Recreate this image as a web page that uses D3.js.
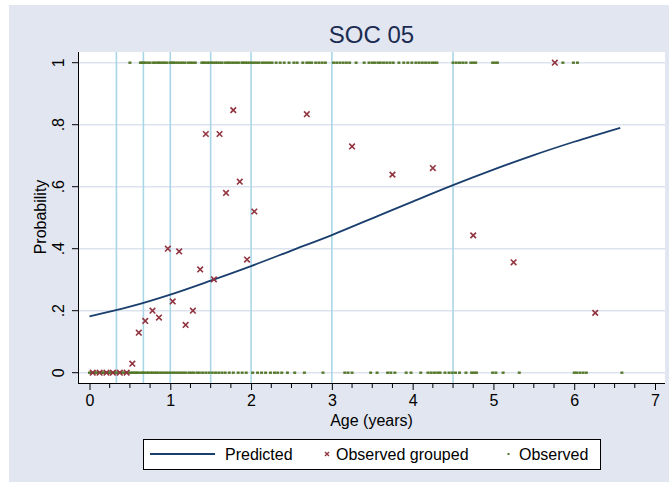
<!DOCTYPE html>
<html><head><meta charset="utf-8">
<script src="https://cdn.jsdelivr.net/npm/d3@7"></script>
<style>body{margin:0;background:#fff}svg{display:block}text{font-family:"Liberation Sans",Arial,sans-serif}</style>
</head><body>
<svg id="c" width="669" height="488"></svg>
<script>
const title = "SOC 05";
const xTicks = [0,1,2,3,4,5,6,7];
const yTicks = [0,0.2,0.4,0.6,0.8,1];
const yTickLabels = ["0",".2",".4",".6",".8","1"];
const refLines = [0.333,0.667,1,1.5,2,3,4.5];
const predAge = [0,0.5,1,1.5,2,2.5,3,3.5,4,4.5,5,5.5,6,6.57];
const predProb = [0.182,0.213,0.252,0.297,0.344,0.394,0.444,0.498,0.552,0.605,0.655,0.702,0.745,0.790];
const grpAge = [0.04,0.125,0.21,0.29,0.375,0.46,0.53,0.61,0.69,0.78,0.86,0.97,1.03,1.11,1.19,1.28,1.37,1.44,1.54,1.61,1.69,1.78,1.86,1.95,2.04,2.69,3.25,3.75,4.25,4.75,5.25,5.76,6.26];
const grpProb = [0,0,0,0,0,0,0.029,0.129,0.167,0.2,0.178,0.4,0.23,0.391,0.154,0.2,0.333,0.77,0.301,0.77,0.58,0.847,0.616,0.365,0.52,0.834,0.73,0.639,0.66,0.443,0.356,1.0,0.193];
const obs1Age = [0.50,0.63,0.65,0.67,0.69,0.72,0.75,0.79,0.81,0.84,0.86,0.88,0.91,0.93,0.96,1.00,1.02,1.04,1.06,1.09,1.12,1.15,1.18,1.22,1.25,1.28,1.31,1.39,1.41,1.43,1.46,1.48,1.51,1.53,1.56,1.58,1.61,1.64,1.68,1.71,1.73,1.76,1.79,1.82,1.85,1.89,1.90,1.93,1.95,1.98,2.01,2.04,2.07,2.10,2.14,2.17,2.20,2.23,2.26,2.31,2.36,2.41,2.47,2.53,2.57,2.64,2.69,2.72,2.75,2.80,2.84,2.88,2.92,3.02,3.06,3.10,3.14,3.18,3.22,3.30,3.40,3.46,3.50,3.53,3.57,3.60,3.64,3.68,3.72,3.76,3.83,3.89,3.94,3.99,4.04,4.08,4.12,4.16,4.20,4.24,4.27,4.30,4.50,4.54,4.58,4.62,4.66,4.72,4.75,4.78,4.99,5.02,5.05,5.86,5.99,6.04];
const obs0Age = [0.00,0.02,0.03,0.05,0.06,0.08,0.09,0.11,0.12,0.14,0.15,0.17,0.18,0.20,0.21,0.23,0.25,0.26,0.28,0.30,0.31,0.33,0.35,0.37,0.39,0.41,0.43,0.45,0.47,0.49,0.51,0.53,0.55,0.57,0.59,0.61,0.64,0.66,0.68,0.71,0.73,0.76,0.78,0.81,0.83,0.86,0.89,0.92,0.95,0.98,1.01,1.04,1.07,1.10,1.13,1.16,1.19,1.23,1.26,1.29,1.33,1.36,1.40,1.44,1.48,1.52,1.56,1.60,1.64,1.68,1.73,1.78,1.84,1.89,1.94,2.02,2.08,2.13,2.18,2.24,2.29,2.33,2.38,2.45,2.54,2.66,2.89,3.16,3.20,3.25,3.48,3.56,3.69,3.73,3.78,3.92,3.98,4.10,4.19,4.23,4.27,4.31,4.34,4.40,4.45,4.49,4.53,4.58,4.66,4.73,4.76,4.79,4.99,5.03,5.12,5.32,6.00,6.03,6.07,6.11,6.15,6.59];
const legendLabels = ["Predicted","Observed grouped","Observed"];

const svg = d3.select("#c");
const bg = "#e1e6f0";
svg.append("rect").attr("x",9).attr("y",5).attr("width",660).attr("height",477).attr("fill",bg);

const L=78, R=665, T=52, B=383;
const x = d3.scaleLinear().domain([0,7]).range([89.5,655]);
const y = d3.scaleLinear().domain([0,1]).range([372.7,62.7]);

svg.append("rect").attr("x",L).attr("y",T).attr("width",R-L).attr("height",B-T).attr("fill","#fff");

svg.append("g").selectAll("line").data(yTicks).join("line")
  .attr("x1",L).attr("x2",R).attr("y1",d=>y(d)).attr("y2",d=>y(d))
  .attr("stroke","#dde3ee").attr("stroke-width",1.6);
svg.append("g").selectAll("line").data(refLines).join("line")
  .attr("x1",d=>x(d)).attr("x2",d=>x(d)).attr("y1",T).attr("y2",B)
  .attr("stroke","#a9d6e6").attr("stroke-width",1.6);

const green="#55782a";
svg.append("g").selectAll("rect").data(obs1Age).join("rect")
  .attr("x",d=>x(d)-1.5).attr("y",y(1)-1.2).attr("width",3).attr("height",2.4).attr("fill",green);
svg.append("g").selectAll("rect").data(obs0Age).join("rect")
  .attr("x",d=>x(d)-1.5).attr("y",y(0)-1.2).attr("width",3).attr("height",2.4).attr("fill",green);

const line = d3.line().x(d=>x(d[0])).y(d=>y(d[1])).curve(d3.curveMonotoneX);
svg.append("path").datum(predAge.map((a,i)=>[a,predProb[i]])).attr("d",line)
  .attr("fill","none").attr("stroke","#1a3f6e").attr("stroke-width",1.8);

const red="#923540";
const s=2.8;
function cross(g,cx,cy){
  g.append("path").attr("d",`M${cx-s},${cy-s}L${cx+s},${cy+s}M${cx-s},${cy+s}L${cx+s},${cy-s}`)
   .attr("stroke",red).attr("stroke-width",1.6).attr("fill","none");
}
const gg = svg.append("g");
grpAge.forEach((a,i)=>cross(gg,x(a),y(grpProb[i])));

const xAxis = d3.axisBottom(x).tickValues(xTicks).tickSize(7).tickFormat(d3.format("d"));
const gx = svg.append("g").attr("transform",`translate(0,${B})`).call(xAxis);
gx.select(".domain").attr("d",`M${L},0.5H${R}`).attr("stroke","#000");
gx.selectAll(".tick line").attr("stroke","#000");
gx.selectAll(".tick text").attr("font-size",16).attr("fill","#000").attr("dy","0.71em").attr("y",12);
const minor = d3.range(1,28).filter(i=>i%4!==0).map(i=>i/4);
svg.append("g").selectAll("line").data(minor).join("line")
  .attr("x1",d=>x(d)).attr("x2",d=>x(d)).attr("y1",B).attr("y2",B+5).attr("stroke","#000");

svg.append("line").attr("x1",L+0.5).attr("x2",L+0.5).attr("y1",T).attr("y2",B+0.5).attr("stroke","#000");
const gy = svg.append("g");
yTicks.forEach((t,i)=>{
  gy.append("line").attr("x1",L-6).attr("x2",L).attr("y1",y(t)).attr("y2",y(t)).attr("stroke","#000");
  gy.append("text").attr("transform",`translate(${L-14},${y(t)}) rotate(-90)`)
    .attr("text-anchor","middle").attr("font-size",16).attr("fill","#000").text(yTickLabels[i]);
});

svg.append("text").attr("transform",`translate(46,217) rotate(-90)`).attr("text-anchor","middle")
  .attr("font-size",16).attr("fill","#000").text("Probability");
svg.append("text").attr("x",(L+R)/2).attr("y",426).attr("text-anchor","middle")
  .attr("font-size",16).attr("fill","#000").text("Age (years)");
svg.append("text").attr("x",(L+R)/2).attr("y",43).attr("text-anchor","middle")
  .attr("font-size",24).attr("fill","#1c2b52").text(title);

const lg = svg.append("g");
lg.append("rect").attr("x",143.5).attr("y",439.5).attr("width",457).attr("height",30).attr("fill","#fff").attr("stroke","#000");
lg.append("line").attr("x1",150).attr("x2",215).attr("y1",454).attr("y2",454).attr("stroke","#1a3f6e").attr("stroke-width",1.8);
lg.append("text").attr("x",225).attr("y",460).attr("font-size",16).text(legendLabels[0]);
lg.append("path").attr("d","M325,452L329,456M325,456L329,452").attr("stroke",red).attr("stroke-width",1.4);
lg.append("text").attr("x",336).attr("y",460).attr("font-size",16).text(legendLabels[1]);
lg.append("rect").attr("x",507.5).attr("y",453).attr("width",2).attr("height",2).attr("fill",green);
lg.append("text").attr("x",519).attr("y",460).attr("font-size",16).text(legendLabels[2]);
</script>
</body></html>
